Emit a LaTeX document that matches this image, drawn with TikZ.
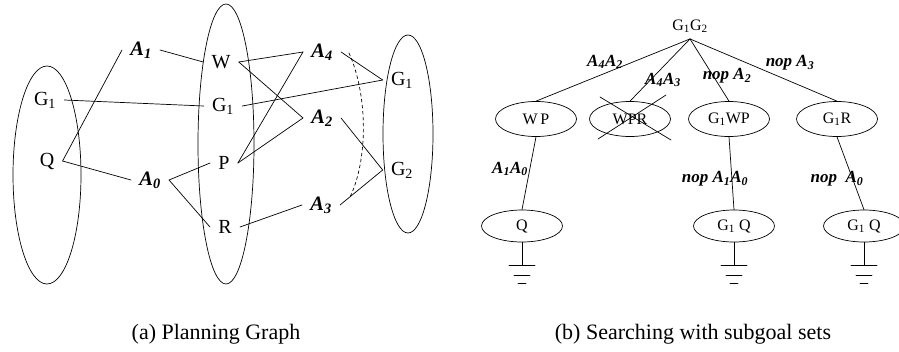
\documentclass[tikz,border=0pt]{standalone}
\usepackage{fontspec}
\setmainfont{Liberation Serif}
\usetikzlibrary{shapes.geometric}

\begin{document}
\begin{tikzpicture}[x=1pt,y=-1pt,line width=0.7pt,line cap=round,
  lbl/.style={font=\fontsize{20}{24}\selectfont,inner xsep=8pt,inner ysep=2pt},
  act/.style={lbl,font=\fontsize{20.5}{24}\selectfont\bfseries\itshape},
  goal/.style={draw,ellipse,minimum width=81pt,minimum height=35pt,inner sep=0pt,font=\fontsize{16}{18}\selectfont},
  elbl/.style={font=\fontsize{17}{20}\selectfont\bfseries\itshape,inner sep=0pt},
  captxt/.style={font=\fontsize{22}{26}\selectfont}]
\useasboundingbox (0,0) rectangle (899,351);

% (a) planning graph
\draw (47,175) ellipse [x radius=34,y radius=109];
\draw (226,144) ellipse [x radius=28,y radius=140];
\draw (408,134) ellipse [x radius=25,y radius=99];
\node[lbl] (g1a) at (45,100) {G\textsubscript{1}};
\node[lbl] (qa) at (47,161) {Q};
\node[act] (a1) at (141,50) {A\textsubscript{1}};
\node[act] (a0) at (150,180) {A\textsubscript{0}};
\node[lbl] (w) at (221,62) {W};
\node[lbl] (g1b) at (223,106) {G\textsubscript{1}};
\node[lbl] (p) at (224,163) {P};
\node[lbl] (r) at (225,227) {R};
\node[act] (a4) at (322,52) {A\textsubscript{4}};
\node[act] (a2) at (322,118) {A\textsubscript{2}};
\node[act] (a3) at (321,205) {A\textsubscript{3}};
\node[lbl] (g1c) at (402,80) {G\textsubscript{1}};
\node[lbl] (g2c) at (402,170) {G\textsubscript{2}};
\draw (qa.east) -- (a1.west);
\draw (qa.east) -- (a0.west);
\draw (a1.east) -- (w.west);
\draw (g1a.east) -- (g1b.west);
\draw (a0.east) -- (p.west);
\draw (a0.east) -- (r.west);
\draw (w.east) -- (a4.west) -- (p.east);
\draw (w.east) -- (a2.west) -- (p.east);
\draw (g1b.east) -- (g1c.west);
\draw (r.east) -- (a3.west);
\draw (a4.east) -- (g1c.west);
\draw (a2.east) -- (g2c.west);
\draw (a3.east) -- (g2c.west);
\coordinate (mtop) at (349,53);
\coordinate (mbot) at (350,197);
\draw[dashed] (mtop) .. controls (368,95) and (368,160) .. (mbot);

% (b) search tree
\node[font=\fontsize{16}{18}\selectfont,inner ysep=6pt] (root) at (690,26) {G\textsubscript{1}G\textsubscript{2}};
\node[goal] (wp) at (536,119) {W\,P};
\node[goal] (wpr) at (630,119) {WPR};
\node[goal] (g1wp) at (729,119) {G\textsubscript{1}WP};
\node[goal] (g1r) at (837,119) {G\textsubscript{1}R};
\node[goal,minimum height=32pt] (q) at (522,226) {Q};
\node[goal,minimum height=32pt] (g1q) at (734,226) {G\textsubscript{1} Q};
\node[goal,minimum height=32pt] (g1qb) at (864,226) {G\textsubscript{1} Q};
\draw (root.south) -- (wp.north);
\draw (root.south) -- (wpr.north);
\draw (root.south) -- (g1wp.north);
\draw (root.south) -- (g1r.north);
\draw (wp.south) -- (q.north);
\draw (g1wp.south) -- (g1q.north);
\draw (g1r.south) -- (g1qb.north);
\node[elbl] (l42) at (605,62) {A\textsubscript{4}A\textsubscript{2}};
\node[elbl] (l43) at (663,80) {A\textsubscript{4}A\textsubscript{3}};
\node[elbl] (ln2) at (727,76) {nop A\textsubscript{2}};
\node[elbl] (ln3) at (790,63) {nop A\textsubscript{3}};
\node[elbl] (l10) at (510,169) {A\textsubscript{1}A\textsubscript{0}};
\node[elbl] (ln10) at (715,179) {nop A\textsubscript{1}A\textsubscript{0}};
\node[elbl] (ln0) at (837,179) {nop\ \ A\textsubscript{0}};
% pruned node
\draw ([shift={(-32,20)}]wpr.center) -- ([shift={(36,-24)}]wpr.center);
\draw ([shift={(-30,-22)}]wpr.center) -- ([shift={(41,21)}]wpr.center);
% ground marks
\foreach \n in {q,g1q,g1qb}
  \draw (\n.south) -- ++(0,23) ++(-13,0) -- ++(26,0) ++(-5,10) -- ++(-16,0) ++(4,8) -- ++(8,0);

\node[captxt] (capa) at (216,334) {(a) Planning Graph};
\node[captxt] (capb) at (693,334) {(b) Searching with subgoal sets};
\end{tikzpicture}
\end{document}
